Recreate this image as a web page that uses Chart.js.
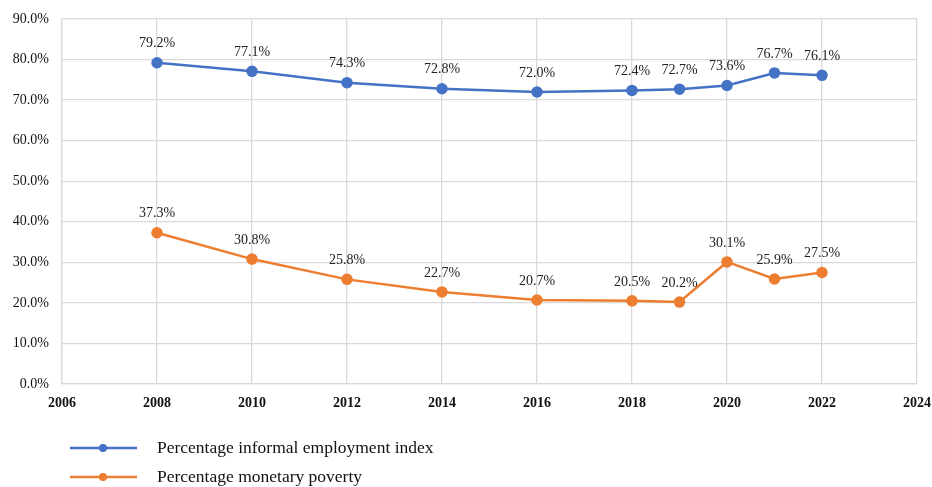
<!DOCTYPE html>
<html>
<head>
<meta charset="utf-8">
<script src="https://cdn.jsdelivr.net/npm/chart.js@4"></script>
<style>
  html, body { margin: 0; padding: 0; background: #fff; }
  #wrap { width: 932px; height: 487px; }
</style>
</head>
<body>
<div id="wrap"><canvas id="chart"></canvas></div>
<script>
const years = [2008, 2010, 2012, 2014, 2016, 2018, 2019, 2020, 2021, 2022];
const informal = [79.2, 77.1, 74.3, 72.8, 72.0, 72.4, 72.7, 73.6, 76.7, 76.1];
const poverty = [37.3, 30.8, 25.8, 22.7, 20.7, 20.5, 20.2, 30.1, 25.9, 27.5];
const seriesNames = ['Percentage informal employment index', 'Percentage monetary poverty'];

const serif = '"Liberation Serif", "Times New Roman", serif';

const pointLabels = {
  id: 'pointLabels',
  afterDatasetsDraw(chart) {
    const c = chart.ctx;
    c.save();
    c.font = '14px ' + serif;
    c.fillStyle = '#222';
    c.textAlign = 'center';
    c.textBaseline = 'middle';
    chart.data.datasets.forEach((ds, i) => {
      chart.getDatasetMeta(i).data.forEach((pt, j) => {
        c.fillText(ds.data[j].y.toFixed(1) + '%', pt.x, pt.y - 19);
      });
    });
    c.restore();
  }
};

const bottomLegend = {
  id: 'bottomLegend',
  afterDraw(chart) {
    const c = chart.ctx;
    c.save();
    c.font = '17.5px ' + serif;
    c.textBaseline = 'middle';
    chart.data.datasets.forEach((ds, i) => {
      const y = 448 + i * 29;
      c.strokeStyle = ds.borderColor;
      c.lineWidth = 2.5;
      c.beginPath();
      c.moveTo(70, y);
      c.lineTo(137, y);
      c.stroke();
      c.fillStyle = ds.borderColor;
      c.beginPath();
      c.arc(103, y, 4, 0, Math.PI * 2);
      c.fill();
      c.fillStyle = '#111';
      c.fillText(ds.label, 157, y);
    });
    c.restore();
  }
};

const ctx = document.querySelector('#chart');
const chart = new Chart(ctx, {
  type: 'line',
  plugins: [pointLabels, bottomLegend],
  data: {
    datasets: [{
      label: seriesNames[0],
      data: years.map((x, i) => ({ x: x, y: informal[i] })),
      borderColor: '#4472C4',
      backgroundColor: '#4472C4',
      borderWidth: 2.5,
      pointRadius: 4.5,
      pointHoverRadius: 4.5
    }, {
      label: seriesNames[1],
      data: years.map((x, i) => ({ x: x, y: poverty[i] })),
      borderColor: '#ED7D31',
      backgroundColor: '#ED7D31',
      borderWidth: 2.5,
      pointRadius: 4.5,
      pointHoverRadius: 4.5
    }]
  },
  options: {
    responsive: true,
    maintainAspectRatio: false,
    animation: false,
    layout: { padding: { top: 19, right: 15, bottom: 73, left: 0 } },
    plugins: {
      legend: { display: false },
      tooltip: { enabled: false }
    },
    scales: {
      x: {
        type: 'linear',
        min: 2006,
        max: 2024,
        ticks: {
          stepSize: 2,
          color: '#111',
          font: { family: serif, size: 14, weight: 'bold' },
          callback: v => String(v),
          padding: 11
        },
        grid: { color: '#d9d9d9', lineWidth: 1.3, drawTicks: false },
        border: { color: '#d9d9d9', width: 1.3 },
        afterFit(s) { s.height = 30; s.paddingLeft = 0; s.paddingRight = 0; }
      },
      y: {
        min: 0,
        max: 90,
        ticks: {
          stepSize: 10,
          color: '#111',
          font: { family: serif, size: 14 },
          callback: v => v.toFixed(1) + '%',
          padding: 13
        },
        grid: { color: '#d9d9d9', lineWidth: 1.3, drawTicks: false },
        border: { color: '#d9d9d9', width: 1.3 },
        afterFit(s) { s.width = 62; s.paddingTop = 0; s.paddingBottom = 0; }
      }
    }
  }
});
</script>
</body>
</html>
